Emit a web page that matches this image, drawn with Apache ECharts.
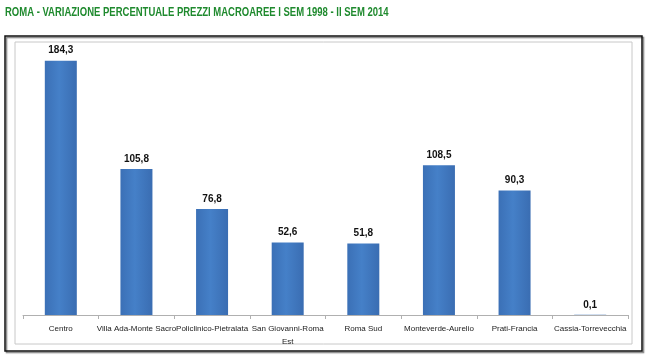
<!DOCTYPE html>
<html>
<head>
<meta charset="utf-8">
<script src="https://cdn.jsdelivr.net/npm/echarts@6/dist/echarts.min.js"></script>
<style>html,body{margin:0;padding:0;background:#fff;}#c{width:650px;height:360px;}</style>
</head>
<body>
<div id="c"></div>
<script>
const titleText = 'ROMA - VARIAZIONE PERCENTUALE PREZZI MACROAREE I SEM 1998 - II SEM 2014';
const categories = ['Centro', 'Villa Ada-Monte Sacro', 'Policlinico-Pietralata', 'San Giovanni-Roma\nEst', 'Roma Sud', 'Monteverde-Aurelio', 'Prati-Francia', 'Cassia-Torrevecchia'];
const values = [184.3, 105.8, 76.8, 52.6, 51.8, 108.5, 90.3, 0.1];

const chart = echarts.init(document.getElementById('c'), null, {renderer: 'canvas'});
const font = '"Liberation Sans", Arial, sans-serif';
chart.setOption({
  animation: false,
  backgroundColor: '#fff',
  graphic: [
    {type: 'text', x: 5, y: 6, scaleX: 0.76, z: 5,
     style: {text: titleText, fill: '#1f8a2e', fontSize: 12.5, fontWeight: 'bold', fontFamily: font}},
    {type: 'rect', shape: {x: 5, y: 36, width: 637, height: 315},
     style: {fill: 'none', stroke: '#111', lineWidth: 1.5, shadowColor: 'rgba(0,0,0,0.5)', shadowOffsetX: 1.5, shadowOffsetY: 1.5, shadowBlur: 1}, z: 0},
    {type: 'rect', shape: {x: 15, y: 42, width: 617, height: 302},
     style: {fill: 'none', stroke: '#c8c8c8', lineWidth: 1}, z: 0}
  ],
  grid: {left: 23, right: 22, top: 39, bottom: 45},
  xAxis: {
    type: 'category', data: categories,
    axisLine: {lineStyle: {color: '#b0b0b0'}},
    axisTick: {show: true, length: 4, lineStyle: {color: '#b0b0b0'}},
    axisLabel: {interval: 0, color: '#222', fontSize: 8, fontFamily: font, lineHeight: 13, margin: 7}
  },
  yAxis: {type: 'value', min: 0, max: 200, show: false, splitLine: {show: false}},
  series: [{
    type: 'bar', data: values, barWidth: 32,
    itemStyle: {color: new echarts.graphic.LinearGradient(0, 0, 1, 0, [
      {offset: 0, color: '#3b70b6'}, {offset: 0.45, color: '#4580c8'}, {offset: 1, color: '#3a6db2'}])},
    label: {
      show: true, position: 'top', distance: 5, color: '#111', fontSize: 10, fontWeight: 'bold', fontFamily: font,
      formatter: p => String(p.value).replace('.', ',')
    }
  }]
});
</script>
</body>
</html>
